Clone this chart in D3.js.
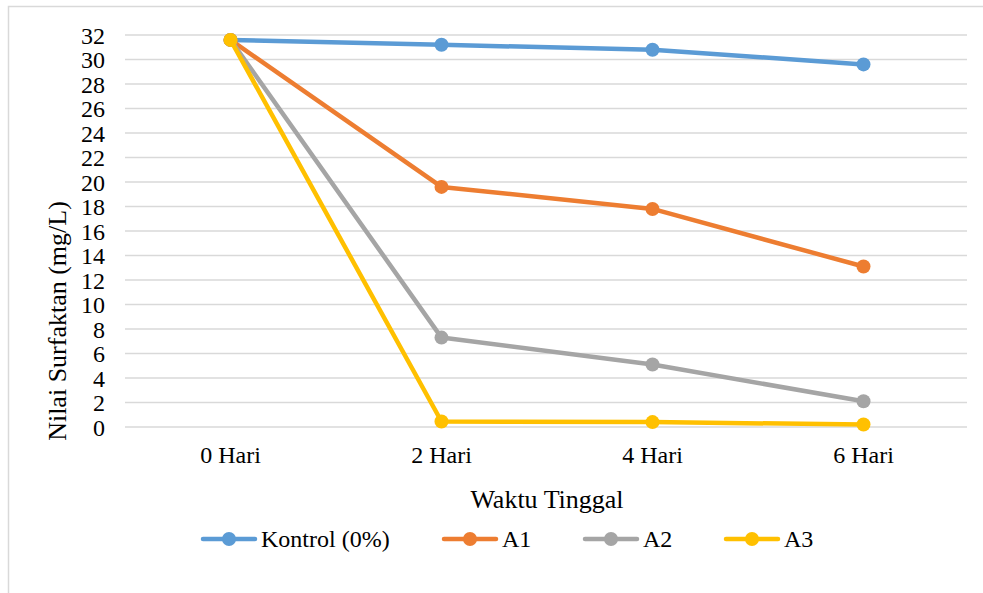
<!DOCTYPE html>
<html><head><meta charset="utf-8">
<script src="https://cdn.jsdelivr.net/npm/d3@7"></script>
</head><body style="margin:0;background:#fff">
<svg id="c" width="983" height="593" style="display:block"></svg>
<script>
const categories = ["0 Hari","2 Hari","4 Hari","6 Hari"];
const seriesNames = ["Kontrol (0%)","A1","A2","A3"];
const kontrol = [31.6, 31.2, 30.8, 29.6];
const a1 = [31.6, 19.6, 17.8, 13.1];
const a2 = [31.6, 7.3, 5.1, 2.1];
const a3 = [31.6, 0.45, 0.4, 0.2];
const yTicks = d3.range(0, 33, 2);
const colors = ["#5B9BD5","#ED7D31","#A5A5A5","#FFC000"];
const series = [kontrol, a1, a2, a3];
const FONT = "Liberation Serif";

const svg = d3.select("#c");
svg.append("rect").attr("x",8.5).attr("y",6.5).attr("width",990).attr("height",600)
  .attr("fill","#fff").attr("stroke","#d9d9d9").attr("stroke-width",1.5);

const m = {l:125, r:969, t:35, b:427};
const x = d3.scaleBand().domain(categories).range([m.l, m.r]);
const y = d3.scaleLinear().domain([0,32]).range([m.b, m.t]);

const grid = svg.append("g");
grid.selectAll("line").data(yTicks).join("line")
  .attr("x1",m.l).attr("x2",m.r-2).attr("y1",d=>y(d)).attr("y2",d=>y(d))
  .attr("stroke","#d9d9d9").attr("stroke-width",1.5);

const yAxis = svg.append("g").attr("transform",`translate(${m.l},0)`)
  .call(d3.axisLeft(y).tickValues(yTicks).tickSize(0).tickPadding(20));
yAxis.attr("font-family",FONT).attr("font-size",24);
yAxis.select(".domain").remove();
yAxis.selectAll("text").attr("fill","#000").attr("dy","0.34em");

const xAxis = svg.append("g").attr("transform",`translate(0,${m.b})`)
  .call(d3.axisBottom(x).tickSize(0).tickPadding(19));
xAxis.attr("font-family",FONT).attr("font-size",24);
xAxis.select(".domain").remove();
xAxis.selectAll("text").attr("fill","#000");

svg.append("text").attr("x",547).attr("y",508).attr("text-anchor","middle")
  .attr("font-size",26).attr("font-family",FONT).text("Waktu Tinggal");
svg.append("text").attr("transform","translate(57,321) rotate(-90)").attr("text-anchor","middle")
  .attr("dy","0.35em").attr("font-size",26).attr("font-family",FONT).text("Nilai Surfaktan (mg/L)");

const line = d3.line().x((d,i)=>x(categories[i])+x.bandwidth()/2).y(d=>y(d));
series.forEach((s,k)=>{
  const g = svg.append("g");
  g.append("path").attr("d",line(s)).attr("fill","none").attr("stroke",colors[k])
    .attr("stroke-width",4.5).attr("stroke-linejoin","round").attr("stroke-linecap","round");
  g.selectAll("circle").data(s).join("circle")
    .attr("cx",(d,i)=>x(categories[i])+x.bandwidth()/2).attr("cy",d=>y(d)).attr("r",7)
    .attr("fill",colors[k]);
});

const legX = [201, 442, 583, 724];
const leg = svg.append("g");
seriesNames.forEach((n,k)=>{
  const g = leg.append("g").attr("transform",`translate(${legX[k]},539)`);
  g.append("line").attr("x1",2).attr("x2",54).attr("stroke",colors[k]).attr("stroke-width",4.5).attr("stroke-linecap","round");
  g.append("circle").attr("cx",28).attr("r",7).attr("fill",colors[k]);
  g.append("text").attr("x",60).attr("dy","0.34em").attr("font-size",24).attr("font-family",FONT).text(n);
});
</script>
</body></html>
